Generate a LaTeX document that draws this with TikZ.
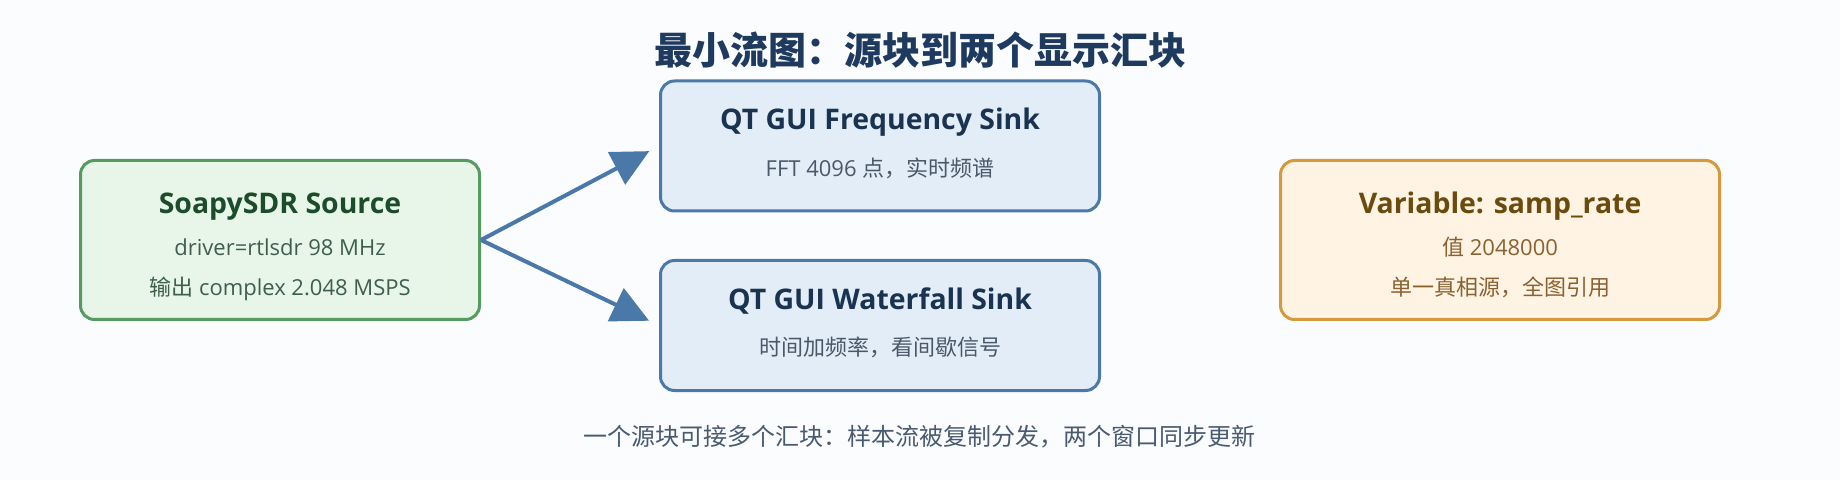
\documentclass[tikz,border=0pt]{standalone}
\usepackage{fontspec}
\setmainfont{Open Sans}
\newfontfamily\cjk{Noto Sans CJK SC}
\usetikzlibrary{arrows.meta, positioning}

\definecolor{pagebg}{HTML}{FBFCFE}
\definecolor{titlecol}{HTML}{1E3A5F}
\definecolor{srcfill}{HTML}{E8F5E9}
\definecolor{srcline}{HTML}{559A5F}
\definecolor{srctext}{HTML}{1B4D2B}
\definecolor{srcsub}{HTML}{3F5F4A}
\definecolor{sinkfill}{HTML}{E3EDF7}
\definecolor{sinkline}{HTML}{4A78A8}
\definecolor{sinktext}{HTML}{1A3350}
\definecolor{sinksub}{HTML}{4A5868}
\definecolor{varfill}{HTML}{FFF3E3}
\definecolor{varline}{HTML}{D39A3E}
\definecolor{vartext}{HTML}{6B4A0E}
\definecolor{varsub}{HTML}{8A6232}
\definecolor{notecol}{HTML}{4A5A70}

\begin{document}
\begin{tikzpicture}[
        x=0.5pt, y=0.5pt,
        block/.style={rectangle, rounded corners=7pt, line width=1.5pt, minimum width=199.5pt, minimum height=79.5pt},
        srcbox/.style={block, draw=srcline, fill=srcfill},
        sinkbox/.style={block, draw=sinkline, fill=sinkfill, minimum width=219.5pt, minimum height=65pt},
        varbox/.style={block, draw=varline, fill=varfill, minimum width=219.5pt},
        heading/.style={anchor=base, inner sep=0pt, font=\fontsize{14.2pt}{16pt}\selectfont\bfseries},
        detail/.style={anchor=base, inner sep=0pt, font=\fontsize{11pt}{13pt}\selectfont},
        flow/.style={-{Triangle[length=18.5pt, width=18pt]}, line width=2pt, draw=sinkline, shorten >=5.5pt},
    ]
        \fill[pagebg] (0,0) rectangle (1840,-480);
        \useasboundingbox (0,0) rectangle (1840,-480);

        \node[anchor=base, inner sep=0pt, text=titlecol, font=\cjk\fontsize{19pt}{22pt}\selectfont\bfseries] (title) at (920,-65) {最小流图：源块到两个显示汇块};

        \node[srcbox] (src) at (280,-240) {};
        \node[sinkbox] (freq) at (880,-146) {};
        \node[sinkbox] (water) at (880,-325.5) {};
        \node[varbox] (var) at (1500,-240) {};

        \node[heading, text=srctext] (src_name) at (280,-214) {SoapySDR Source};
        \node[detail, text=srcsub] (src_drv) at (280,-256) {driver=rtlsdr 98 MHz};
        \node[detail, text=srcsub] (src_out) at (280,-296) {{\cjk 输出} complex 2.048 MSPS};

        \node[heading, text=sinktext] (freq_name) at (880,-130) {QT GUI Frequency Sink};
        \node[detail, text=sinksub] (freq_info) at (880,-177) {FFT 4096 {\cjk 点，实时频谱}};

        \node[heading, text=sinktext] (water_name) at (880,-310) {QT GUI Waterfall Sink};
        \node[detail, text=sinksub] (water_info) at (880,-356) {\cjk 时间加频率，看间歇信号};

        \node[heading, text=vartext] (var_name) at (1500,-214) {Variable: samp\_rate};
        \node[detail, text=varsub] (var_val) at (1500,-256) {{\cjk 值} 2048000};
        \node[detail, text=varsub] (var_note) at (1500,-296) {\cjk 单一真相源，全图引用};

        \draw[flow] (src.east) -- (freq.west);
        \draw[flow] (src.east) -- (water.west);

        \node[anchor=base, inner sep=0pt, text=notecol, font=\cjk\fontsize{12pt}{14pt}\selectfont] (note) at (919,-445) {一个源块可接多个汇块：样本流被复制分发，两个窗口同步更新};
    \end{tikzpicture}
\end{document}
